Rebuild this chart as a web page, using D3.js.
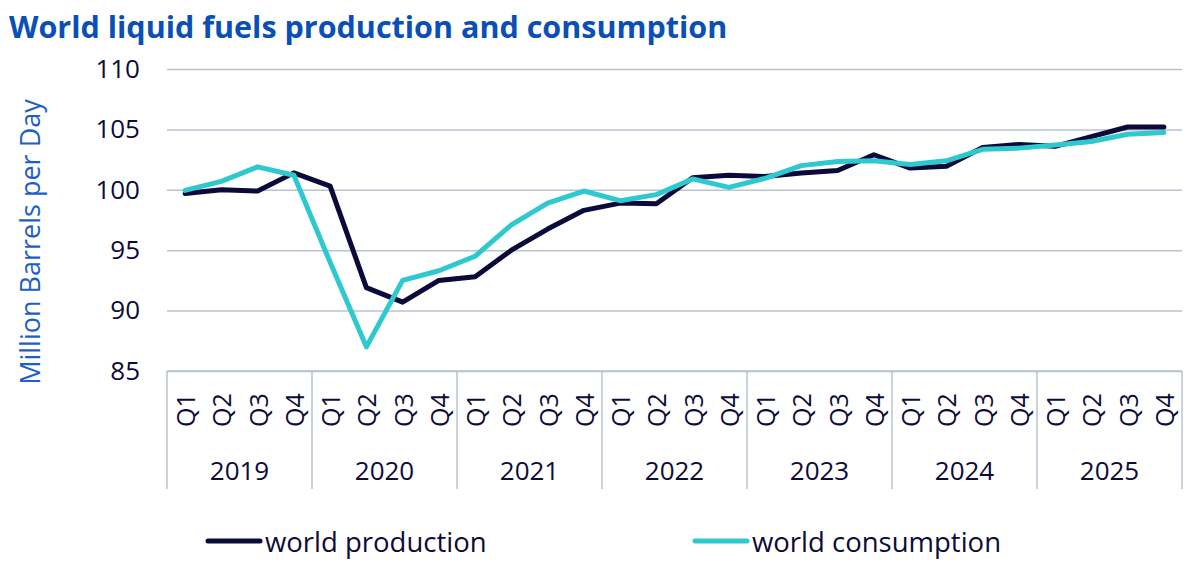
<!DOCTYPE html>
<html>
<head>
<meta charset="utf-8">
<script src="https://cdn.jsdelivr.net/npm/d3@7"></script>
<style>
  body { margin: 0; background: #fff; }
  svg { display: block; font-family: "Open Sans", Lato, sans-serif; }
</style>
</head>
<body>
<div class="canvas"></div>
<script>
const years = ["2019", "2020", "2021", "2022", "2023", "2024", "2025"]
const quarters = ["Q1", "Q2", "Q3", "Q4"]
const production = [
  99.7, 100.0, 99.9, 101.4,
  100.3, 91.9, 90.7, 92.5,
  92.8, 95.0, 96.75, 98.3,
  98.9, 98.85, 101.0, 101.2,
  101.1, 101.4, 101.6, 102.9,
  101.8, 101.95, 103.5, 103.75,
  103.6, 104.4, 105.2, 105.2
]
const consumption = [
  99.95, 100.7, 101.9, 101.2,
  94.0, 87.0, 92.5, 93.3,
  94.5, 97.1, 98.9, 99.9,
  99.1, 99.6, 100.9, 100.2,
  100.95, 102.0, 102.35, 102.4,
  102.1, 102.4, 103.35, 103.45,
  103.7, 104.0, 104.6, 104.75
]
const yTicks = [85, 90, 95, 100, 105, 110]
const seriesNames = ["world production", "world consumption"]

const width = 1200
const height = 565
let [mt, mr, mb, ml] = [69, 18, 194, 167]

const textColor = "#0d0b3a"
const gridColor = "#b8c3cf"
const colors = ["#0b0a3a", "#2ec9cf"]

// flat list of period keys, one per quarter
const periods = []
years.forEach(y => quarters.forEach(q => periods.push({ year: y, q: q, key: y + " " + q })))

const svg = d3.select(".canvas")
  .append("svg")
  .attr("width", width)
  .attr("height", height)

const x = d3.scaleBand()
  .domain(periods.map(p => p.key))
  .range([ml, width - mr])

const y = d3.scaleLinear()
  .domain([85, 110])
  .range([height - mb, mt])

// title
svg.append("text")
  .attr("x", 9)
  .attr("y", 38)
  .attr("fill", "#0a4fb5")
  .attr("font-size", 30.5)
  .attr("font-weight", 700)
  .text("World liquid fuels production and consumption")

// y axis title
svg.append("text")
  .attr("transform", `translate(40, ${(height - mb + mt) / 2 + 22}) rotate(-90)`)
  .attr("text-anchor", "middle")
  .attr("fill", "#1d5fc4")
  .attr("font-size", 27)
  .text("Million Barrels per Day")

// gridlines + y labels
const yAxis = d3.axisLeft(y)
  .tickValues(yTicks)
  .tickSize(-(width - mr - ml))
  .tickPadding(27)

svg.append("g")
  .attr("transform", `translate(${ml}, 0)`)
  .call(yAxis)
  .call(g => g.select(".domain").remove())
  .call(g => g.selectAll(".tick line")
    .attr("stroke", gridColor)
    .attr("stroke-width", 1.5))
  .call(g => g.selectAll(".tick text")
    .attr("fill", textColor)
    .attr("font-size", 26)
    .attr("font-family", "'Open Sans', sans-serif"))

// x axis: baseline and year dividers
const axisG = svg.append("g")
const baseY = y(85)
axisG.append("line")
  .attr("x1", ml).attr("x2", width - mr)
  .attr("y1", baseY).attr("y2", baseY)
  .attr("stroke", gridColor)
  .attr("stroke-width", 1.5)

const yearEdges = years.map(yr => x(yr + " Q1")).concat([width - mr])
axisG.selectAll(".divider")
  .data(yearEdges)
  .enter()
  .append("line")
  .attr("class", "divider")
  .attr("x1", d => d).attr("x2", d => d)
  .attr("y1", baseY).attr("y2", baseY + 118)
  .attr("stroke", gridColor)
  .attr("stroke-width", 1.5)

// quarter labels, rotated
axisG.selectAll(".qlabel")
  .data(periods)
  .enter()
  .append("text")
  .attr("class", "qlabel")
  .attr("transform", d => `translate(${x(d.key) + x.bandwidth() / 2}, ${baseY + 39}) rotate(-90)`)
  .attr("dominant-baseline", "central")
  .attr("text-anchor", "middle")
  .attr("fill", textColor)
  .attr("font-size", 25)
  .text(d => d.q)

// year labels
axisG.selectAll(".ylabel")
  .data(years)
  .enter()
  .append("text")
  .attr("class", "ylabel")
  .attr("x", d => x(d + " Q1") + x.bandwidth() * 2)
  .attr("y", baseY + 109)
  .attr("text-anchor", "middle")
  .attr("fill", textColor)
  .attr("font-size", 26)
  .text(d => d)

// lines
const line = d3.line()
  .x((d, i) => x(periods[i].key) + x.bandwidth() / 2)
  .y(d => y(d))

const series = [production, consumption]
svg.selectAll(".series")
  .data(series)
  .enter()
  .append("path")
  .attr("class", "series")
  .attr("d", d => line(d))
  .attr("fill", "none")
  .attr("stroke", (d, i) => colors[i])
  .attr("stroke-width", 5)
  .attr("stroke-linejoin", "round")
  .attr("stroke-linecap", "round")

// legend
const legendX = [208, 695]
const legend = svg.selectAll(".legend")
  .data(seriesNames)
  .enter()
  .append("g")
  .attr("class", "legend")
  .attr("transform", (d, i) => `translate(${legendX[i]}, 541)`)

legend.append("line")
  .attr("x1", 0).attr("x2", 52)
  .attr("stroke", (d, i) => colors[i])
  .attr("stroke-width", 5)
  .attr("stroke-linecap", "round")

legend.append("text")
  .attr("x", 57)
  .attr("dominant-baseline", "central")
  .attr("fill", textColor)
  .attr("font-size", 27.5)
  .text(d => d)
</script>
</body>
</html>
